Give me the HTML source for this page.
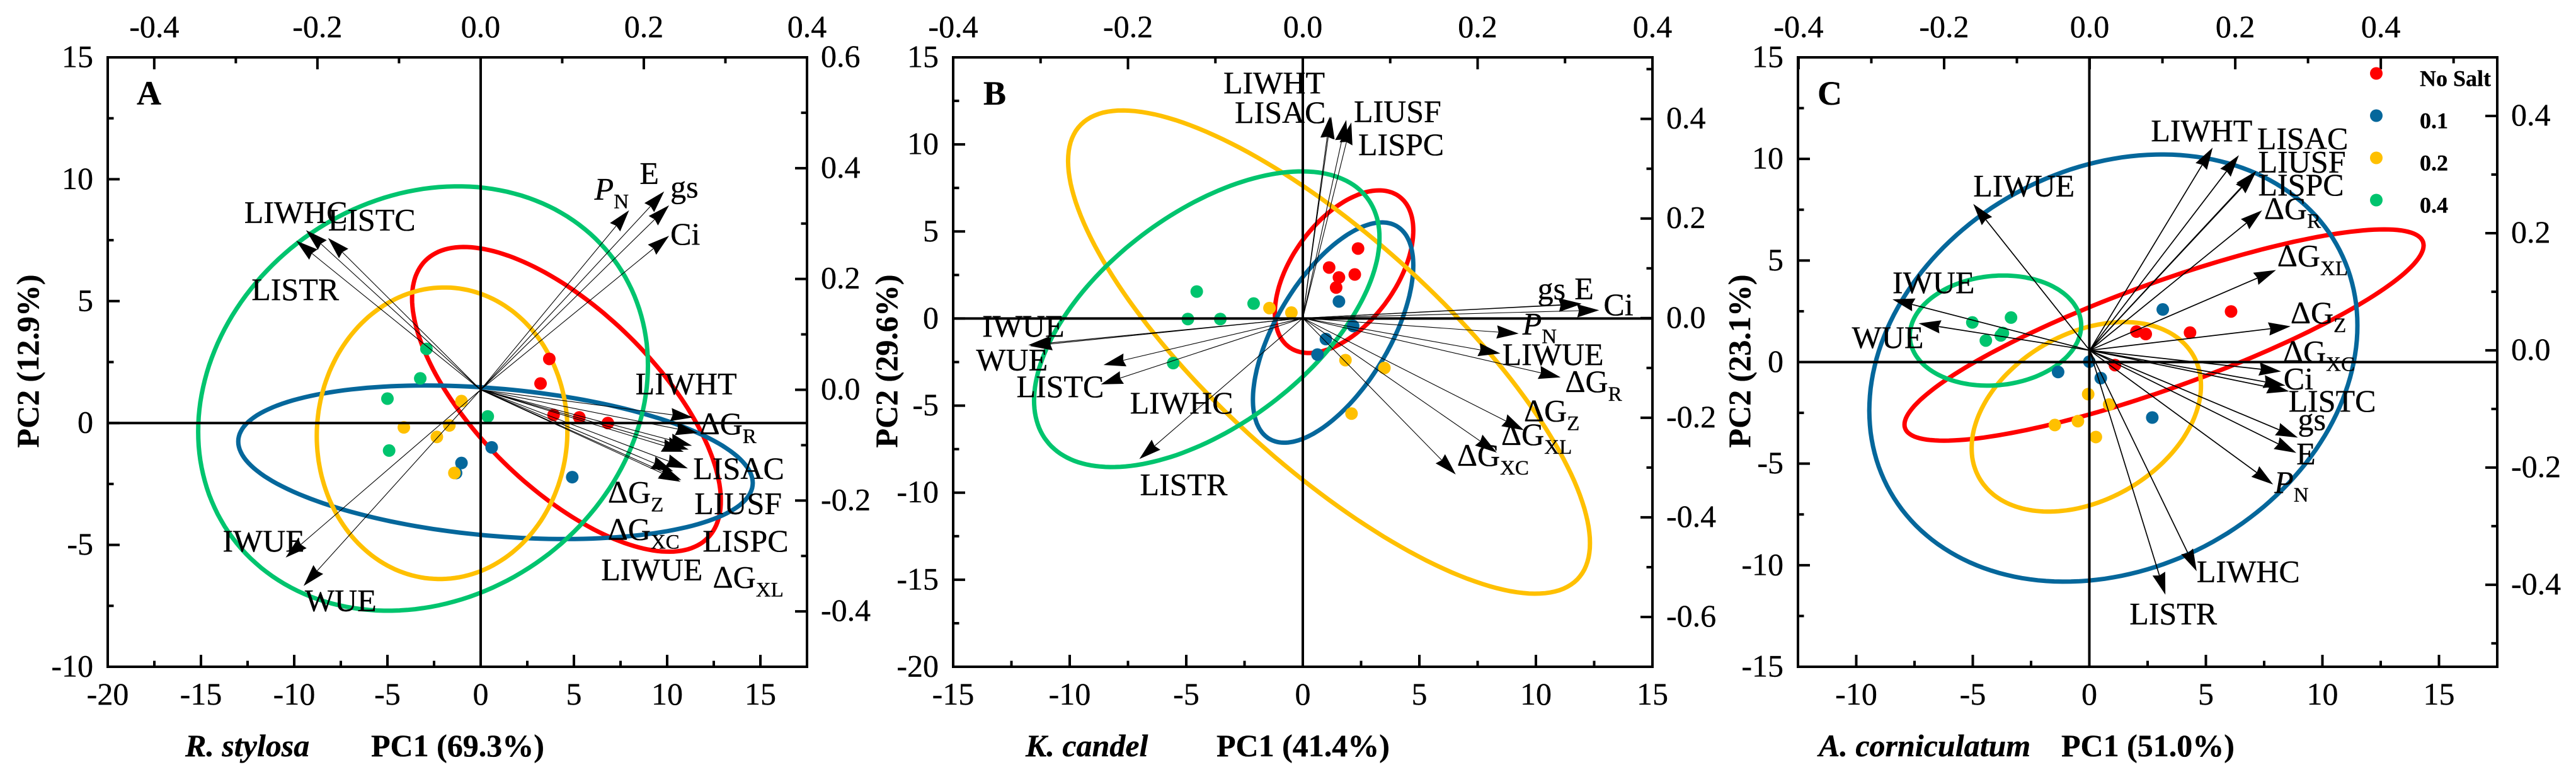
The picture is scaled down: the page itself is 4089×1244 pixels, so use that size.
<!DOCTYPE html>
<html lang="en">
<head>
<meta charset="utf-8">
<title>PCA biplots</title>
<style>
html,body{margin:0;padding:0;background:#fff;width:4089px;height:1244px;overflow:hidden}
svg{display:block}
text{font-family:"Liberation Serif","DejaVu Serif",serif;fill:#000;stroke:#000;stroke-width:.35px}
</style>
</head>
<body>
<svg id="chart" xmlns="http://www.w3.org/2000/svg" width="4089" height="1244" viewBox="0 0 4089 1244"></svg>
<script>
/* ---------- Shared tick values ---------- */
const aBottomTicks = [-20, -15, -10, -5, 0, 5, 10, 15];
const aLeftTicks = [-10, -5, 0, 5, 10, 15];
const aTopTicks = ["-0.4", "-0.2", "0.0", "0.2", "0.4"];
const aRightTicks = ["-0.4", "-0.2", "0.0", "0.2", "0.4", "0.6"];
const bBottomTicks = [-15, -10, -5, 0, 5, 10, 15];
const bLeftTicks = [-20, -15, -10, -5, 0, 5, 10, 15];
const bTopTicks = ["-0.4", "-0.2", "0.0", "0.2", "0.4"];
const bRightTicks = ["-0.6", "-0.4", "-0.2", "0.0", "0.2", "0.4"];
const cBottomTicks = [-10, -5, 0, 5, 10, 15];
const cLeftTicks = [-15, -10, -5, 0, 5, 10, 15];
const cTopTicks = ["-0.4", "-0.2", "0.0", "0.2", "0.4"];
const cRightTicks = ["-0.4", "-0.2", "0.0", "0.2", "0.4"];

/* ---------- Legend ---------- */
const groupNames = ["No Salt", "0.1", "0.2", "0.4"];

/* ---------- Panel A scores ---------- */
const aRedX = [3.68, 3.21, 3.91, 5.29, 6.82];
const aRedY = [2.63, 1.62, 0.33, 0.23, 0];
const aBlueX = [0.59, -1.03, -1.32, 4.91];
const aBlueY = [-1.0, -1.64, -2.05, -2.22];
const aYellowX = [-1.03, -1.68, -2.35, -4.12, -1.41];
const aYellowY = [0.9, -0.1, -0.57, -0.18, -2.05];
const aGreenX = [-2.91, -3.24, -5.0, -4.91, 0.38];
const aGreenY = [3.04, 1.83, 1.0, -1.13, 0.27];
/* Ellipse extents, order: red, blue, yellow, green */
const aEllXMin = [-3.68, -13.0, -8.79, -15.15];
const aEllXMax = [12.88, 14.59, 4.65, 8.97];
const aEllYMin = [-5.28, -4.76, -6.40, -7.70];
const aEllYMax = [7.22, 1.54, 5.56, 9.71];
const aEllYAtXMax = [-3.18, -2.46, -0.31, 2.36];
/* Loadings */
const aVarNames = ["P_N", "E", "gs", "Ci", "LIWHC", "LISTC", "LISTR", "IWUE", "WUE", "LIWHT", "ΔG_R", "LISAC", "LIUSF", "LISPC", "ΔG_Z", "ΔG_XC", "ΔG_XL", "LIWUE"];
const aLoadPc1 = [0.182, 0.225, 0.231, 0.231, -0.214, -0.187, -0.226, -0.239, -0.217, 0.260, 0.266, 0.259, 0.255, 0.249, 0.254, 0.236, 0.246, 0.245];
const aLoadPc2 = [0.324, 0.358, 0.333, 0.278, 0.288, 0.274, 0.269, -0.303, -0.354, -0.050, -0.078, -0.101, -0.108, -0.112, -0.142, -0.147, -0.163, -0.166];

/* ---------- Panel B scores ---------- */
const bRedX = [2.37, 1.13, 1.55, 2.23, 1.43];
const bRedY = [4.02, 2.93, 2.36, 2.53, 1.78];
const bBlueX = [1.55, 2.16, 0.99, 0.63];
const bBlueY = [0.98, -0.43, -1.18, -2.07];
const bYellowX = [-1.43, -0.49, 1.83, 3.5, 2.09];
const bYellowY = [0.6, 0.34, -2.39, -2.84, -5.46];
const bGreenX = [-4.55, -4.93, -3.54, -2.11, -5.56];
const bGreenY = [1.55, -0.03, -0.03, 0.86, -2.56];
const bEllXMin = [-1.2, -2.14, -10.07, -11.53];
const bEllXMax = [4.74, 4.74, 12.32, 3.29];
const bEllYMin = [-1.98, -7.13, -15.8, -8.53];
const bEllYMax = [7.36, 5.52, 11.95, 8.45];
const bEllYAtXMax = [5.06, 3.05, -12.9, 4.63];
const bVarNames = ["LIWHT", "LISAC", "LIUSF", "LISPC", "gs", "E", "Ci", "P_N", "LIWUE", "ΔG_R", "ΔG_Z", "ΔG_XL", "ΔG_XC", "LISTR", "LISTC", "LIWHC", "IWUE", "WUE"];
const bLoadPc1 = [0.0324, 0.031, 0.0497, 0.0555, 0.319, 0.318, 0.339, 0.247, 0.226, 0.295, 0.253, 0.222, 0.175, -0.187, -0.231, -0.228, -0.312, -0.314];
const bLoadPc2 = [0.4046, 0.4046, 0.398, 0.393, 0.029, 0.028, 0.016, -0.031, -0.071, -0.119, -0.225, -0.270, -0.314, -0.283, -0.133, -0.094, -0.056, -0.054];

/* ---------- Panel C scores ---------- */
const cRedX = [6.08, 4.32, 2.42, 2.02, 1.1];
const cRedY = [2.49, 1.45, 1.38, 1.5, -0.15];
const cBlueX = [3.15, 0, -1.34, 0.49, 2.7];
const cBlueY = [2.59, 0.02, -0.49, -0.79, -2.73];
const cYellowX = [-0.05, 0.85, -0.49, -1.48, 0.28];
const cYellowY = [-1.58, -2.09, -2.91, -3.1, -3.69];
const cGreenX = [-3.36, -5.02, -4.44, -3.8, -3.71];
const cGreenY = [2.19, 1.95, 1.06, 1.31, 1.43];
const cEllXMin = [-7.93, -9.44, -5.05, -7.7];
const cEllXMax = [14.34, 11.5, 4.79, -0.35];
const cEllYMin = [-3.87, -10.81, -7.36, -1.16];
const cEllYMax = [6.53, 10.22, 1.97, 4.26];
const cEllYAtXMax = [5.74, 1.8, -1.16, 1.8];
const cVarNames = ["LIWHT", "LISAC", "LIUSF", "LISPC", "ΔG_R", "ΔG_XL", "ΔG_Z", "ΔG_XC", "Ci", "LISTC", "gs", "E", "P_N", "LIWHC", "LISTR", "LIWUE", "IWUE", "WUE"];
const cLoadPc1 = [0.169, 0.205, 0.229, 0.228, 0.237, 0.256, 0.276, 0.263, 0.269, 0.274, 0.286, 0.284, 0.252, 0.147, 0.104, -0.160, -0.271, -0.235];
const cLoadPc2 = [0.346, 0.333, 0.306, 0.303, 0.239, 0.137, 0.041, -0.036, -0.060, -0.070, -0.149, -0.175, -0.229, -0.377, -0.417, 0.250, 0.087, 0.046];

/* ---------- Layout only (no data): frames, axis limits, label nudges from the arrow tip ---------- */
const COLORS = ["#ff0000", "#05679b", "#ffc000", "#00c46e"];
const COLOR_KEYS = ["red", "blue", "yellow", "green"];
const LABEL_NUDGE = {
  a: {"P_N":[-55,-17],"E":[-39,-12],"gs":[2,-12],"Ci":[2,14],"LIWHC":[-98,-12],"LISTC":[0,-12],"LISTR":[-71,94],"IWUE":[-100,-10],"WUE":[2,40],"LIWHT":[-91,-37],"ΔG_R":[3,2],"LISAC":[2,53],"LIUSF":[9,102],"LISPC":[30,158],"ΔG_Z":[-127,54],"ΔG_XC":[-104,109],"ΔG_XL":[50,171],"LIWUE":[-126,156]},
  b: {"LIWHT":[-171,-37],"LISAC":[-151,10],"LIUSF":[12,3],"LISPC":[11,52],"gs":[-70,-7],"E":[-10,-8],"Ci":[7,8],"P_N":[6,1],"LIWUE":[3,18],"ΔG_R":[7,23],"ΔG_Z":[0,-14],"ΔG_XL":[7,-12],"ΔG_XC":[2,-14],"LISTR":[1,57],"LISTC":[-134,20],"LIWHC":[42,77],"IWUE":[-76,-15],"WUE":[-83,40]},
  c: {"LIWHT":[-98,-10],"LISAC":[29,-10],"LIUSF":[3,2],"LISPC":[4,36],"ΔG_R":[3,14],"ΔG_XL":[2,-6],"ΔG_Z":[0,-5],"ΔG_XC":[3,-15],"Ci":[-3,6],"LISTC":[-1,32],"gs":[0,-12],"E":[0,18],"P_N":[2,13],"LIWHC":[0,17],"LISTR":[-57,47],"LIWUE":[0,-12],"IWUE":[0,-10],"WUE":[-106,39]}
};

const panels = [
  {id:"a", letter:"A", letterX:217, l:171, r:1281, t:91, b:1058,
   xLim:[-20,17.5], yLim:[-10,15], topLim:[-0.457,0.4], rightLim:[-0.5,0.6],
   bottomTicks:aBottomTicks, leftTicks:aLeftTicks, topTicks:aTopTicks, rightTicks:aRightTicks,
   xStep:5, yStep:5,
   scoreX:[aRedX,aBlueX,aYellowX,aGreenX], scoreY:[aRedY,aBlueY,aYellowY,aGreenY],
   ell:[aEllXMin,aEllXMax,aEllYMin,aEllYMax,aEllYAtXMax],
   names:aVarNames, pc1:aLoadPc1, pc2:aLoadPc2, shaft:1.1,
   species:"R. stylosa", speciesX:294, pc1Title:"PC1 (69.3%)", pc1X:589, pc2Title:"PC2 (12.9%)", pc2X:61},
  {id:"b", letter:"B", letterX:1561, l:1513, r:2623, t:91, b:1058,
   xLim:[-15,15], yLim:[-20,15], topLim:[-0.4,0.4], rightLim:[-0.7,0.5236],
   bottomTicks:bBottomTicks, leftTicks:bLeftTicks, topTicks:bTopTicks, rightTicks:bRightTicks,
   xStep:5, yStep:5,
   scoreX:[bRedX,bBlueX,bYellowX,bGreenX], scoreY:[bRedY,bBlueY,bYellowY,bGreenY],
   ell:[bEllXMin,bEllXMax,bEllYMin,bEllYMax,bEllYAtXMax],
   names:bVarNames, pc1:bLoadPc1, pc2:bLoadPc2, shaft:1.1,
   species:"K. candel", speciesX:1628, pc1Title:"PC1 (41.4%)", pc1X:1931, pc2Title:"PC2 (29.6%)", pc2X:1424},
  {id:"c", letter:"C", letterX:2885, l:2854, r:3964, t:91, b:1058,
   xLim:[-12.5,17.5], yLim:[-15,15], topLim:[-0.4008,0.56], rightLim:[-0.54,0.5],
   bottomTicks:cBottomTicks, leftTicks:cLeftTicks, topTicks:cTopTicks, rightTicks:cRightTicks,
   xStep:5, yStep:5,
   scoreX:[cRedX,cBlueX,cYellowX,cGreenX], scoreY:[cRedY,cBlueY,cYellowY,cGreenY],
   ell:[cEllXMin,cEllXMax,cEllYMin,cEllYMax,cEllYAtXMax],
   names:cVarNames, pc1:cLoadPc1, pc2:cLoadPc2, shaft:1.7,
   species:"A. corniculatum", speciesX:2887, pc1Title:"PC1 (51.0%)", pc1X:3272, pc2Title:"PC2 (23.1%)", pc2X:2778}
];

const NS = "http://www.w3.org/2000/svg";
const root = document.getElementById("chart");

function mk(tag, attrs, parent) {
  const el = document.createElementNS(NS, tag);
  for (const k in attrs) el.setAttribute(k, attrs[k]);
  parent.appendChild(el);
  return el;
}
function linear(d0, d1, p0, p1) {
  return function (v) { return p0 + (v - d0) * (p1 - p0) / (d1 - d0); };
}
function slug(s) {
  return String(s).toLowerCase().replace(/Δ/g, "delta-").replace(/[^a-z0-9-]+/g, "-").replace(/^-+|-+$/g, "");
}

function drawLabel(parent, name, x, y) {
  const t = mk("text", {x: x, y: y, "font-size": 50}, parent);
  
  
  const parts = name.split("_");
  const main = mk("tspan", {}, t);
  main.textContent = parts[0];
  if (parts[0] === "P") main.setAttribute("font-style", "italic");
  if (parts[1]) {
    const sub = mk("tspan", {dy: 14, "font-size": 33}, t);
    sub.textContent = parts[1];
  }
}

function drawAxisTicks(g, p, sx, sy, st, sr) {
  const MAJ = 19, MIN = 9.5, W = 4;
  function tick(x1, y1, x2, y2, name) {
    const ln = mk("line", {x1: x1, y1: y1, x2: x2, y2: y2, stroke: "#000", "stroke-width": W}, g);
    
    
  }
  function label(x, y, txt, anchor, name) {
    const t = mk("text", {x: x, y: y, "font-size": 50, "text-anchor": anchor}, g);
    t.textContent = txt;
    
    
  }
  /* bottom */
  const bt = p.bottomTicks;
  bt.forEach(function (v) {
    tick(sx(v), p.b, sx(v), p.b - MAJ, "x-major-tick");
    label(sx(v), p.b + 60, String(v), "middle", "x-tick-label");
  });
  for (let v = bt[0] - p.xStep / 2; v <= p.xLim[1] + 1e-6; v += p.xStep) {
    if (v >= p.xLim[0] - 1e-6) tick(sx(v), p.b, sx(v), p.b - MIN, "x-minor-tick");
  }
  /* left */
  const lt = p.leftTicks;
  lt.forEach(function (v) {
    tick(p.l, sy(v), p.l + MAJ, sy(v), "y-major-tick");
    label(p.l - 23, sy(v) + 15.5, String(v), "end", "y-tick-label");
  });
  for (let v = lt[0] + p.yStep / 2; v <= p.yLim[1]; v += p.yStep) {
    tick(p.l, sy(v), p.l + MIN, sy(v), "y-minor-tick");
  }
  /* top */
  const tt = p.topTicks.map(parseFloat);
  p.topTicks.forEach(function (s) {
    const v = parseFloat(s);
    tick(st(v), p.t, st(v), p.t + MAJ, "top-major-tick");
    label(st(v), 59, s, "middle", "top-tick-label");
  });
  for (let v = tt[0] - 0.1; v <= p.topLim[1] + 1e-6; v += 0.2) {
    if (v >= p.topLim[0] - 1e-6) tick(st(v), p.t, st(v), p.t + MIN, "top-minor-tick");
  }
  /* right */
  const rt = p.rightTicks.map(parseFloat);
  p.rightTicks.forEach(function (s) {
    const v = parseFloat(s);
    tick(p.r, sr(v), p.r - MAJ, sr(v), "right-major-tick");
    label(p.r + 22, sr(v) + 15, s, "start", "right-tick-label");
  });
  for (let v = rt[0] - 0.1; v <= p.rightLim[1] + 1e-6; v += 0.2) {
    if (v >= p.rightLim[0] - 1e-6) tick(p.r, sr(v), p.r - MIN, sr(v), "right-minor-tick");
  }
}

function ellipsePath(xMin, xMax, yMin, yMax, yAtXMax, sx, sy) {
  const cx = (xMin + xMax) / 2, rx = (xMax - xMin) / 2;
  const cy = (yMin + yMax) / 2, ry = (yMax - yMin) / 2;
  const phi = Math.asin(Math.max(-1, Math.min(1, (yAtXMax - cy) / ry)));
  let d = "";
  for (let i = 0; i < 180; i++) {
    const a = i / 180 * 2 * Math.PI;
    const px = sx(cx + rx * Math.cos(a));
    const py = sy(cy + ry * Math.sin(a + phi));
    d += (i ? "L" : "M") + px.toFixed(1) + " " + py.toFixed(1);
  }
  return d + "Z";
}

panels.forEach(function (p) {
  const sx = linear(p.xLim[0], p.xLim[1], p.l, p.r);
  const sy = linear(p.yLim[0], p.yLim[1], p.b, p.t);
  const st = linear(p.topLim[0], p.topLim[1], p.l, p.r);
  const sr = linear(p.rightLim[0], p.rightLim[1], p.b, p.t);

  const g = mk("g", {}, root);
  
  

  /* ellipses: red first, green on top */
  [0, 1, 2, 3].forEach(function (i) {
    const e = mk("path", {
      d: ellipsePath(p.ell[0][i], p.ell[1][i], p.ell[2][i], p.ell[3][i], p.ell[4][i], sx, sy),
      fill: "none", stroke: COLORS[i], "stroke-width": 7
    }, g);
    
    
  });

  /* score points */
  p.scoreX.forEach(function (xs, i) {
    xs.forEach(function (v, j) {
      const c = mk("circle", {cx: sx(v), cy: sy(p.scoreY[i][j]), r: 10, fill: COLORS[i]}, g);
      
      
    });
  });

  /* zero lines */
  const zh = mk("line", {x1: p.l, x2: p.r, y1: sy(0), y2: sy(0), stroke: "#000", "stroke-width": 4}, g);
  
  
  const zv = mk("line", {x1: sx(0), x2: sx(0), y1: p.t, y2: p.b, stroke: "#000", "stroke-width": 4}, g);
  
  

  /* loading arrows */
  const ox = st(0), oy = sr(0);
  p.names.forEach(function (name, i) {
    const tx = st(p.pc1[i]), ty = sr(p.pc2[i]);
    const dx = tx - ox, dy = ty - oy, len = Math.hypot(dx, dy);
    const ux = dx / len, uy = dy / len, L = 35, H = 10.5, N = 32;
    const shaft = mk("line", {x1: ox, y1: oy, x2: tx - ux * N, y2: ty - uy * N, stroke: "#000", "stroke-width": p.shaft}, g);
    
    
    const pts = [
      [tx, ty],
      [tx - ux * L - uy * H, ty - uy * L + ux * H],
      [tx - ux * N, ty - uy * N],
      [tx - ux * L + uy * H, ty - uy * L - ux * H]
    ].map(function (q) { return q[0].toFixed(1) + "," + q[1].toFixed(1); }).join(" ");
    const head = mk("polygon", {points: pts, fill: "#000"}, g);
    
    
    const nudge = LABEL_NUDGE[p.id][name];
    drawLabel(g, name, tx + nudge[0], ty + nudge[1]);
  });

  /* frame + ticks */
  const fr = mk("rect", {x: p.l, y: p.t, width: p.r - p.l, height: p.b - p.t, fill: "none", stroke: "#000", "stroke-width": 4}, g);
  
  
  drawAxisTicks(g, p, sx, sy, st, sr);

  /* panel letter */
  const lt = mk("text", {x: p.letterX, y: 166, "font-size": 54, "font-weight": "bold"}, g);
  lt.textContent = p.letter;
  
  

  /* titles */
  const sp = mk("text", {x: p.speciesX, y: 1200, "font-size": 50, "font-weight": "bold", "font-style": "italic"}, g);
  sp.textContent = p.species;
  
  
  const xt = mk("text", {x: p.pc1X, y: 1200, "font-size": 50, "font-weight": "bold"}, g);
  xt.textContent = p.pc1Title;
  
  
  const yt = mk("text", {x: 0, y: 0, "font-size": 50, "font-weight": "bold", "text-anchor": "middle", transform: "translate(" + p.pc2X + ",573) rotate(-90)"}, g);
  yt.textContent = p.pc2Title;
  
  
});

/* legend (panel C) */
const legend = mk("g", {}, root);


const LEGEND_Y_STEP = 67;
groupNames.forEach(function (name, i) {
  const y = 116.5 + i * LEGEND_Y_STEP;
  const dot = mk("circle", {cx: 3772, cy: y, r: 10, fill: COLORS[i]}, legend);
  
  
  const t = mk("text", {x: 3841, y: y + 20, "font-size": 36, "font-weight": "bold"}, legend);
  t.textContent = name;
  
  
});
</script>
</body>
</html>
